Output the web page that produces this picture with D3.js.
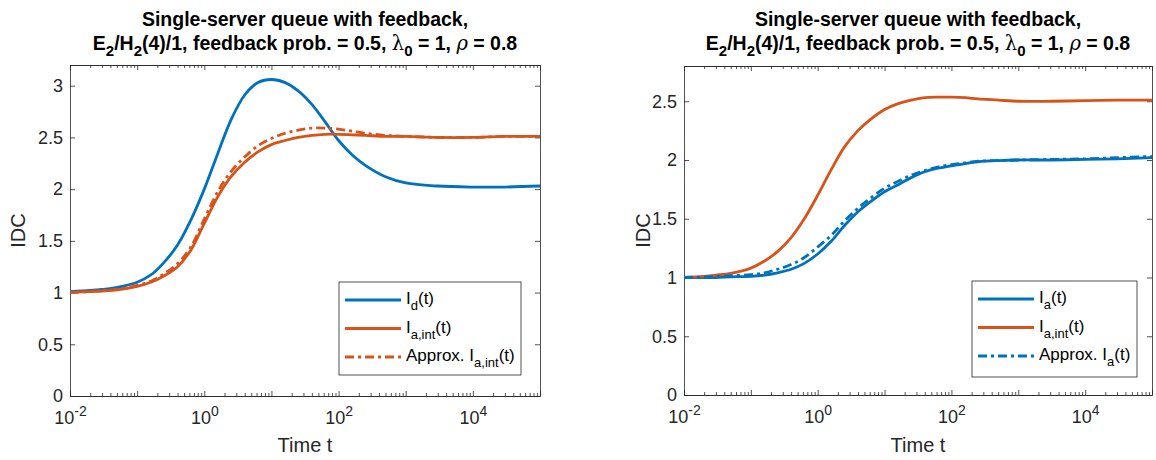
<!DOCTYPE html>
<html>
<head>
<meta charset="utf-8">
<script src="https://cdn.jsdelivr.net/npm/d3@7"></script>
<style>
  body { margin: 0; background: #fff; }
  svg { font-family: "Liberation Sans", Arial, Helvetica, sans-serif; }
</style>
</head>
<body>
<div id="chart"></div>
<script>
// time points (log spaced)
const time = [0.01, 0.02, 0.03, 0.05, 0.1, 0.16, 0.25, 0.4, 0.63, 1, 1.6, 2.5, 4, 6.3, 10, 16, 25, 40, 63,
              100, 160, 250, 500, 1000, 3000, 10000, 30000, 100000];

// left panel series
const leftId     = [1.01, 1.02, 1.03, 1.05, 1.10, 1.17, 1.29, 1.46, 1.70, 2.00, 2.35, 2.67, 2.91, 3.03, 3.06, 3.03, 2.95, 2.82, 2.65,
                    2.47, 2.33, 2.23, 2.12, 2.06, 2.03, 2.02, 2.02, 2.03];
const leftIaInt  = [1.00, 1.01, 1.015, 1.025, 1.06, 1.10, 1.16, 1.25, 1.41, 1.67, 1.93, 2.12, 2.26, 2.36, 2.43, 2.47, 2.50, 2.52, 2.53,
                    2.53, 2.525, 2.52, 2.51, 2.51, 2.50, 2.50, 2.51, 2.51];
const leftApprox = [1.00, 1.01, 1.02, 1.03, 1.07, 1.11, 1.18, 1.28, 1.44, 1.71, 1.98, 2.17, 2.31, 2.42, 2.49, 2.54, 2.57, 2.59, 2.59,
                    2.58, 2.56, 2.54, 2.52, 2.51, 2.50, 2.50, 2.51, 2.51];

// right panel series
const rightIa     = [1.00, 1.00, 1.00, 1.005, 1.01, 1.02, 1.04, 1.07, 1.12, 1.20, 1.31, 1.44, 1.56, 1.65, 1.73, 1.79, 1.85, 1.90, 1.93,
                     1.95, 1.97, 1.985, 1.995, 2.00, 2.00, 2.005, 2.01, 2.02];
const rightIaInt  = [1.00, 1.01, 1.02, 1.035, 1.08, 1.14, 1.22, 1.34, 1.50, 1.70, 1.92, 2.11, 2.25, 2.35, 2.43, 2.48, 2.51, 2.53, 2.535,
                     2.535, 2.53, 2.52, 2.51, 2.50, 2.50, 2.505, 2.51, 2.51];
const rightApprox = [1.00, 1.005, 1.01, 1.015, 1.025, 1.04, 1.07, 1.11, 1.17, 1.26, 1.36, 1.48, 1.59, 1.68, 1.76, 1.82, 1.87, 1.91, 1.94,
                     1.96, 1.975, 1.99, 1.995, 2.00, 2.005, 2.01, 2.02, 2.03];

// ticks
const xTickExp = [-2, 0, 2, 4];
const leftYTicks = [0, 0.5, 1, 1.5, 2, 2.5, 3];
const rightYTicks = [0, 0.5, 1, 1.5, 2, 2.5];

const blue = "#0072BD", orange = "#D95319", axisCol = "#262626";

const svg = d3.select("#chart").append("svg")
    .attr("width", 1156)
    .attr("height", 460);

// title with sub-scripts
function drawTitle(cx) {
    svg.append("text")
        .attr("x", cx).attr("y", 26)
        .attr("text-anchor", "middle")
        .attr("font-size", 19.5).attr("font-weight", "bold")
        .attr("fill", "#000")
        .text("Single-server queue with feedback,");
    const t2 = svg.append("text")
        .attr("x", cx).attr("y", 50)
        .attr("text-anchor", "middle")
        .attr("font-size", 19.5).attr("font-weight", "bold")
        .attr("fill", "#000");
    t2.append("tspan").text("E");
    t2.append("tspan").attr("dy", 6).attr("font-size", 15).text("2");
    t2.append("tspan").attr("dy", -6).text("/H");
    t2.append("tspan").attr("dy", 6).attr("font-size", 15).text("2");
    t2.append("tspan").attr("dy", -6).text("(4)/1, feedback prob. = 0.5, ");
    t2.append("tspan").attr("font-family", "DejaVu Serif").attr("font-weight", "normal").text("λ");
    t2.append("tspan").attr("dy", 6).attr("font-size", 15).text("0");
    t2.append("tspan").attr("dy", -6).text(" = 1, ");
    t2.append("tspan").attr("font-family", "DejaVu Serif").attr("font-weight", "normal").attr("font-style", "italic").text("ρ");
    t2.append("tspan").text(" = 0.8");
}

// legend label with subscripts: parts = [[text, sub?], ...]
function richText(sel, parts) {
    let sub = false;
    parts.forEach(p => {
        const ts = sel.append("tspan").text(p[0]);
        if (p[1] && !sub) { ts.attr("dy", 6).attr("font-size", 13); sub = true; }
        else if (!p[1] && sub) { ts.attr("dy", -6); sub = false; }
    });
}

function drawPanel(cfg) {
    const x = d3.scaleLog().domain([0.01, 100000]).range([cfg.x0, cfg.x1]);
    const y = d3.scaleLinear().domain([0, cfg.yMax]).range([cfg.yBot, cfg.yTop]);
    const g = svg.append("g");

    // minor ticks
    const minor = [];
    for (let e = -2; e < 5; e++) for (let k = 2; k <= 9; k++) minor.push(k * Math.pow(10, e));

    const major = d3.range(-2, 6).map(e => Math.pow(10, e));

    g.append("g").attr("transform", `translate(0,${cfg.yBot})`)
        .call(d3.axisBottom(x).tickValues(minor).tickSize(-3).tickSizeOuter(0).tickFormat(""));
    g.append("g").attr("transform", `translate(0,${cfg.yTop})`)
        .call(d3.axisTop(x).tickValues(minor).tickSize(-3).tickSizeOuter(0).tickFormat(""));
    g.append("g").attr("transform", `translate(0,${cfg.yTop})`)
        .call(d3.axisTop(x).tickValues(major).tickSize(-5).tickSizeOuter(0).tickFormat(""));

    const xAxis = g.append("g").attr("transform", `translate(0,${cfg.yBot})`)
        .call(d3.axisBottom(x).tickValues(major).tickSize(-5).tickSizeOuter(0).tickFormat(""));
    xAxis.selectAll(".tick").each(function(d) {
        const e = Math.round(Math.log10(d));
        if (!xTickExp.includes(e)) return;
        const txt = d3.select(this).append("text")
            .attr("y", 28).attr("fill", axisCol)
            .attr("font-size", 18).attr("text-anchor", "middle");
        txt.append("tspan").text("10");
        txt.append("tspan").attr("dy", -8).attr("font-size", 14).text(e);
    });

    g.append("g").attr("transform", `translate(${cfg.x0},0)`)
        .call(d3.axisLeft(y).tickValues(cfg.yTicks).tickSize(-5).tickSizeOuter(0).tickPadding(7)
            .tickFormat(d3.format("~g")))
        .selectAll("text").attr("font-size", 18).attr("fill", axisCol);
    g.append("g").attr("transform", `translate(${cfg.x1},0)`)
        .call(d3.axisRight(y).tickValues(cfg.yTicks).tickSize(-5).tickSizeOuter(0).tickFormat(""));

    g.selectAll(".domain").attr("stroke", axisCol).attr("stroke-width", 0.8);
    g.selectAll(".tick line").attr("stroke", axisCol).attr("stroke-width", 0.8);
    g.selectAll("text").attr("font-family", null);

    // axis labels
    g.append("text")
        .attr("x", (cfg.x0 + cfg.x1) / 2).attr("y", 452)
        .attr("text-anchor", "middle").attr("font-size", 20).attr("fill", axisCol)
        .text("Time t");
    g.append("text")
        .attr("transform", `translate(${cfg.yLabX},${(cfg.yTop + cfg.yBot) / 2}) rotate(-90)`)
        .attr("text-anchor", "middle").attr("font-size", 20).attr("fill", axisCol)
        .text("IDC");

    // lines
    const line = d3.line()
        .x((d, i) => x(time[i]))
        .y(d => y(d))
        .curve(d3.curveCatmullRom.alpha(0.5));

    cfg.series.forEach(s => {
        g.append("path")
            .attr("d", line(s.values))
            .attr("fill", "none")
            .attr("stroke", s.color)
            .attr("stroke-width", 2.8)
            .attr("stroke-dasharray", s.dash ? "9,4,3,4" : null);
    });

    // legend
    const lg = g.append("g");
    lg.append("rect")
        .attr("x", cfg.legend.x).attr("y", cfg.legend.y)
        .attr("width", cfg.legend.w).attr("height", cfg.legend.h)
        .attr("fill", "#fff").attr("stroke", axisCol).attr("stroke-width", 0.8);
    cfg.series.forEach((s, i) => {
        const ly = cfg.legend.y + 18 + i * 28.5;
        lg.append("line")
            .attr("x1", cfg.legend.x + 6).attr("x2", cfg.legend.x + 62)
            .attr("y1", ly).attr("y2", ly)
            .attr("stroke", s.color).attr("stroke-width", 2.8)
            .attr("stroke-dasharray", s.dash ? "9,4,3,4" : null);
        const t = lg.append("text")
            .attr("x", cfg.legend.x + 67).attr("y", ly + 4)
            .attr("font-size", 17).attr("fill", "#000");
        richText(t, s.label);
    });
}

drawTitle(305);
drawTitle(918);

drawPanel({
    x0: 70, x1: 540, yTop: 65, yBot: 396, yMax: 3.2, yTicks: leftYTicks, yLabX: 25,
    legend: { x: 339, y: 282, w: 182, h: 93 },
    series: [
        { values: leftId, color: blue, dash: false, label: [["I"], ["d", 1], ["(t)"]] },
        { values: leftIaInt, color: orange, dash: false, label: [["I"], ["a,int", 1], ["(t)"]] },
        { values: leftApprox, color: orange, dash: true, label: [["Approx. I"], ["a,int", 1], ["(t)"]] }
    ]
});

drawPanel({
    x0: 684, x1: 1152, yTop: 66, yBot: 395, yMax: 2.8, yTicks: rightYTicks, yLabX: 650,
    legend: { x: 972, y: 281, w: 165, h: 96 },
    series: [
        { values: rightIa, color: blue, dash: false, label: [["I"], ["a", 1], ["(t)"]] },
        { values: rightIaInt, color: orange, dash: false, label: [["I"], ["a,int", 1], ["(t)"]] },
        { values: rightApprox, color: blue, dash: true, label: [["Approx. I"], ["a", 1], ["(t)"]] }
    ]
});
</script>
</body>
</html>
